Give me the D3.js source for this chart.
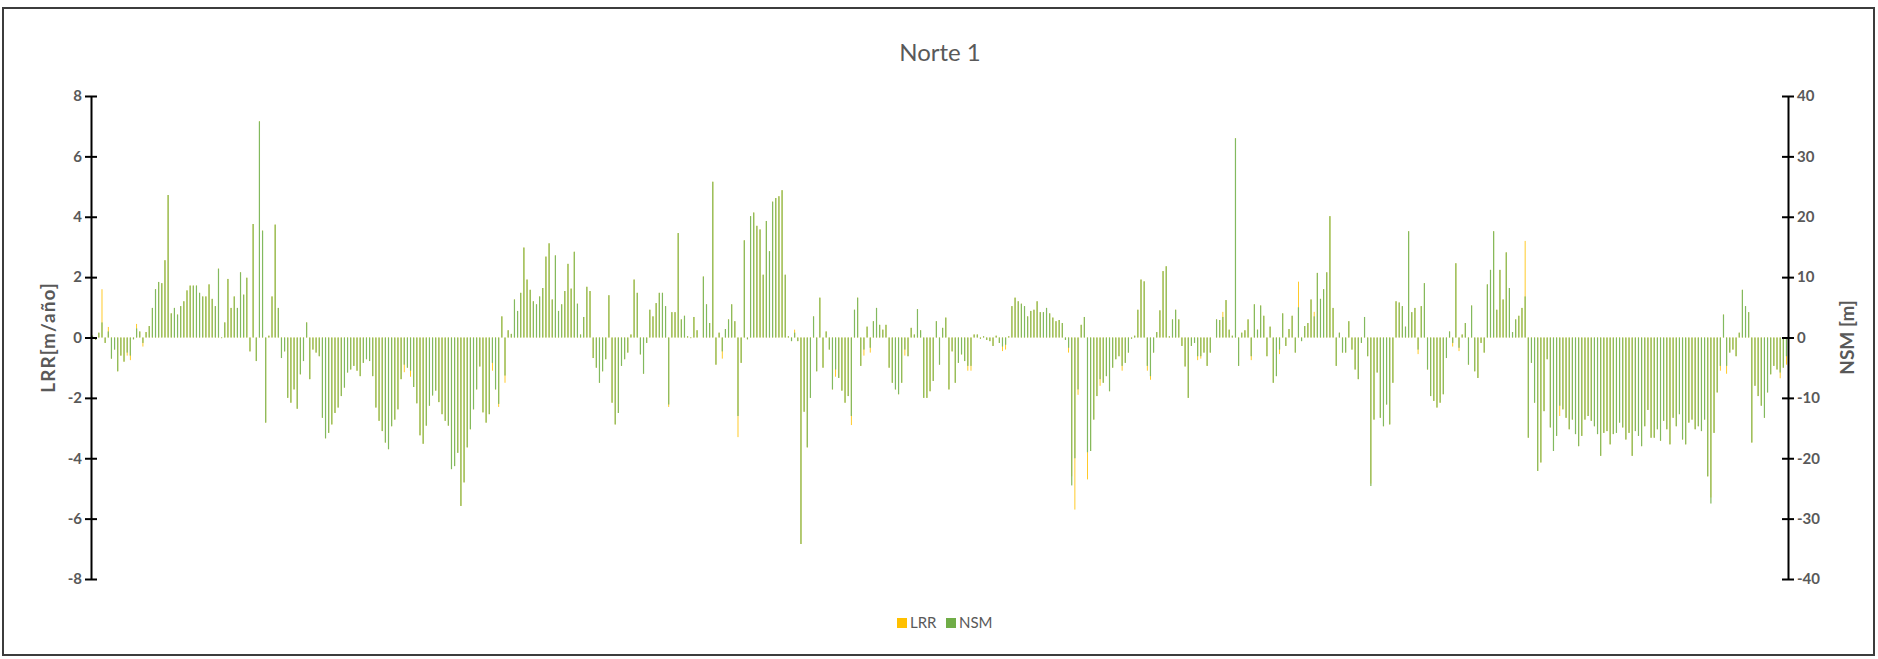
<!DOCTYPE html>
<html>
<head>
<meta charset="utf-8">
<script src="https://cdn.jsdelivr.net/npm/d3@7"></script>
<style>
  html, body { margin: 0; padding: 0; background: #fff; }
  svg { display: block; }
  text { font-family: Lato, "Open Sans", "DejaVu Sans", sans-serif; }
</style>
</head>
<body>
<svg id="chart" width="1878" height="659"></svg>
<script>
// Net shoreline movement per transect [m]
const nsm = [
  0.3, -0.4, 0.8, 2.5, -0.9, 1, -3.5, -2, -5.6, -3, -4, -2.5, -3, -0.3, 1.5, 1, -0.9, 0.9, 1.9, 4.9, 8, 9.2, 9, 12.8, 23.6, 4, 4.9, 3.8, 5.2, 6, 7.8, 8.6, 8.6, 8.6, 7.4, 6.8, 6.8, 8.8, 6.4, 5.2, 11.4, -0.1, 2.5, 9.7, 4.9, 6.8, 4.9, 10.8,
  7.1, 9.9, -2.3, 18.8, -3.9, 35.8, 17.7, -14.1, 0.3, 6.8, 18.7, 4.9, -3.4, -2.3, -10, -10.8, -8.6, -11.8, -6.1, -3.9, 2.5, -6.9, -2, -2.5, -3.1, -13.3, -16.7, -15.8, -14.4, -12.5, -11.6, -9.7, -8.3, -5.8, -5.3, -4.7, -5.5, -6.4, -4.2, -3.6, -3.9, -6.4, -11.6, -13.8, -15.5, -17.4, -18.5, -14.7, -13.6, -11.9,
  -6.9, -4.5, -5, -5.5, -8.2, -10.9, -16.2, -17.6, -14.6, -11.3, -9.6, -8.8, -10.7, -12.7, -13.8, -14.6, -21.8, -21.3, -19.1, -27.9, -24, -18.2, -15.2, -11.9, -8.6, -4.8, -12.4, -14.1, -12.7, -4.2, -8.6, -11, 3.5, -6.3, 1.2, 0.6, 6.3, 4.4, 7.4, 14.9, 9.6, 7.9, 6, 5.5, 6.8, 8.2, 13.4, 15.6, 6.3,
  13.6, 4.4, 5.5, 7.7, 12.2, 8.1, 14.2, 5.6, 0.5, 3.4, 8.4, 7.7, -3.4, -5, -7.5, -5.6, -3.6, 7, -10.8, -14.4, -12.5, -4.7, -3.6, -2.5, 0.5, 9.6, 7.4, -2.8, -6, -0.9, 4.6, 3.5, 5.7, 7.4, 7.4, 5.2, -11.1, 4.2, 4.2, 17.3, 3, 3.6, 0.2, -0.1, 3.4, 1.2, 0, 10.1, 5.5, 2.4,
  25.8, -4.5, 0.8, -2.3, 1.4, 3, 5.5, 2.7, -13, -4.2, 16.1, -0.3, 20.1, 20.7, 18.5, 17.9, 10.4, 19.3, 14.3, 22.5, 23.1, 23.4, 24.4, 10.4, 0.2, -0.6, 0.8, -0.6, -34.2, -12.3, -18.2, -10, 3.5, -5.6, 6.6, -5, 1, -2, -8.6, -5.3, -6.7, -8.8, -10.8, -9.7, -13, 4.6, 6.6, -4.7,
  -2, 1.8, -1.7, 2.7, 4.9, 2.1, 1.3, 2.1, -5, -7.5, -8.6, -9.4, -7.5, -2, -3.1, 1.6, 0.5, 4.7, 1.2, -10, -10, -8.9, -7.2, 2.7, -4.5, 1.6, 3.3, -8.6, -2.3, -7.5, -4.2, -2.8, -3.9, -4.7, -4.7, 0.5, 0.5, -0.2, 0.2, -0.4, -0.6, -1.4, 0.3, -0.9, -1.5, -1.2, 0.2, 5.2, 6.6, 6,
  5.6, 5.2, 3.5, 4.4, 4.6, 6, 4.2, 4.2, 4.9, 4, 3.3, 2.7, 2.9, 2.4, -0.4, -1.7, -24.5, -20, -8.6, 2.1, 3.4, -19, -18.8, -13.6, -9.7, -6.9, -7.5, -6.4, -8.9, -5, -3.6, -3.1, -4.7, -4.2, -2.5, -0.2, 0.3, 4.6, 9.6, 9.3, -4.7, -6.4, -2.5, 0.9, 4.5, 11, 11.8, 0.2, 3, 4.6,
  3, -1.4, -4.8, -10, -1.4, -0.9, -3.1, -3.1, -2.5, -4.7, -2.5, 0, 3, 2.9, 3.4, 6.2, 1.3, 0.3, 33, -4.7, 0.8, 1.2, 3, -3.1, 5.5, 1.3, 5.3, 3.6, -3.1, 1.8, -7.5, -6.4, -2, 4, -1.4, 1.4, 3.6, -2.5, 5, -0.6, 1.9, 2.4, 6.3, 3.5, 10.7, 6.4, 8, 10.8, 20.1, 4.9,
  -4.7, 0.8, -2.5, -2.5, 2.7, -2, -5.3, -6.9, -0.9, 3.4, -3.1, -24.6, -13.6, -5.8, -13.3, -14.7, -11.1, -14.4, -7.5, 6, 5.8, 5.2, 1.8, 17.6, 4.2, 4.9, -2, 5.2, 9, -5.3, -9.7, -10.5, -11.6, -10.8, -9.4, -3.4, 1, -0.9, 12.3, -1.7, 0.5, 2.4, -4.5, 5.3, -5.6, -6.7, -0.9, -2.5, 8.8, 11.2,
  17.6, 4.6, 11.2, 6.3, 14.1, 8.2, 0.9, 3, 3.6, 4.9, 6.8, -16.6, -4.2, -10.8, -22.1, -20.7, -12.2, -3.6, -14.9, -18.8, -16.3, -11.3, -11.9, -13.3, -15.2, -13.6, -16, -18, -16.3, -13.6, -13, -13.8, -14.7, -16, -19.6, -15.8, -15.5, -17.7, -16, -15.8, -14.1, -14.9, -16.9, -15.8, -19.6, -15.5, -16.3, -18, -14.7, -12,
  -16.6, -16.6, -15.2, -17.1, -13.8, -15.2, -17.7, -13.3, -14.7, -12.7, -16.9, -17.7, -14.1, -13.6, -15.2, -14.7, -15.5, -13.6, -23, -27.5, -15.8, -9.1, -4.7, 3.8, -4.7, -2.5, -2, -3.1, 0.8, 7.9, 5.2, 4.2, -17.4, -8, -9.7, -11.3, -13.3, -9.1, -6.1, -4.7, -5.3, -5.8, -5, -3.1
];

// Linear regression rate per transect [m/año]
const lrr = [
  0.06, -0.08, 0.16, 1.6, -0.18, 0.35, -0.7, -0.4, -1.12, -0.6, -0.8, -0.6, -0.75, -0.06, 0.45, 0.2, -0.3, 0.18, 0.38, 0.98, 1.6, 1.84, 1.8, 2.56, 4.72, 0.8, 0.98, 0.76, 1.04, 1.2, 1.56, 1.72, 1.72, 1.72, 1.48, 1.36, 1.36, 1.76, 1.28, 1.04, 2.28, -0.02, 0.5, 1.94, 0.98, 1.36, 0.98, 2.16,
  1.42, 1.98, -0.46, 3.76, -0.78, 7.16, 3.54, -2.82, 0.06, 1.36, 3.74, 0.98, -0.68, -0.46, -2, -2.16, -1.72, -2.36, -1.22, -0.78, 0.5, -1.38, -0.4, -0.5, -0.62, -2.66, -3.34, -3.16, -2.88, -2.5, -2.32, -1.94, -1.66, -1.16, -1.06, -0.94, -1.1, -1.28, -0.84, -0.72, -0.78, -1.28, -2.32, -2.76, -3.1, -3.48, -3.7, -2.94, -2.72, -2.38,
  -1.38, -1.15, -1, -1.3, -1.64, -2.18, -3.24, -3.52, -2.92, -2.26, -1.92, -1.76, -2.14, -2.54, -2.76, -2.92, -4.36, -4.26, -3.82, -5.58, -4.8, -3.64, -3.04, -2.38, -1.72, -0.96, -2.48, -2.82, -2.54, -1.1, -1.72, -2.3, 0.7, -1.5, 0.24, 0.12, 1.26, 0.88, 1.48, 2.98, 1.92, 1.58, 1.2, 1.1, 1.36, 1.64, 2.68, 3.12, 1.26,
  2.72, 0.88, 1.1, 1.54, 2.44, 1.62, 2.84, 1.12, 0.1, 0.68, 1.68, 1.54, -0.68, -1, -1.5, -1.12, -0.72, 1.4, -2.16, -2.88, -2.5, -0.94, -0.72, -0.5, 0.1, 1.92, 1.48, -0.56, -1.2, -0.18, 0.92, 0.7, 1.14, 1.48, 1.48, 1.04, -2.3, 0.84, 0.84, 3.46, 0.6, 0.72, 0.04, -0.02, 0.68, 0.24, 0, 2.02, 1.1, 0.48,
  5.16, -0.9, 0.16, -0.7, 0.28, 0.6, 1.1, 0.54, -3.3, -0.84, 3.22, -0.06, 4.02, 4.14, 3.7, 3.58, 2.08, 3.86, 2.86, 4.5, 4.62, 4.68, 4.88, 2.08, 0.04, -0.12, 0.26, -0.12, -6.84, -2.46, -3.64, -2, 0.7, -1.12, 1.32, -1, 0.2, -0.4, -1.72, -1.3, -1.34, -1.76, -2.16, -1.94, -2.9, 0.92, 1.32, -0.94,
  -0.6, 0.36, -0.5, 0.54, 0.98, 0.42, 0.26, 0.42, -1, -1.5, -1.72, -1.88, -1.5, -0.6, -0.62, 0.32, 0.1, 0.94, 0.24, -2, -2, -1.78, -1.44, 0.54, -0.9, 0.32, 0.66, -1.72, -0.46, -1.5, -0.84, -0.56, -0.78, -1.1, -1.1, 0.1, 0.1, -0.04, 0.04, -0.08, -0.12, -0.28, 0.06, -0.18, -0.45, -0.4, 0.04, 1.04, 1.32, 1.2,
  1.12, 1.04, 0.7, 0.88, 0.92, 1.2, 0.84, 0.84, 0.98, 0.8, 0.66, 0.54, 0.58, 0.48, -0.08, -0.5, -4.6, -5.7, -1.9, 0.42, 0.68, -4.7, -3.76, -2.72, -1.94, -1.6, -1.5, -1.28, -1.78, -1, -0.72, -0.62, -1.1, -0.84, -0.5, -0.04, 0.06, 0.92, 1.92, 1.86, -1.1, -1.4, -0.5, 0.18, 0.9, 2.2, 2.36, 0.04, 0.6, 0.92,
  0.6, -0.28, -0.96, -2, -0.28, -0.18, -0.75, -0.7, -0.5, -0.94, -0.5, 0, 0.6, 0.58, 0.85, 1.24, 0.26, 0.06, 6.6, -0.94, 0.16, 0.24, 0.6, -0.75, 1.1, 0.26, 1.06, 0.72, -0.62, 0.36, -1.5, -1.28, -0.55, 0.8, -0.28, 0.28, 0.72, -0.5, 1.85, -0.12, 0.38, 0.48, 1.26, 0.85, 2.14, 1.28, 1.6, 2.16, 4.02, 0.98,
  -0.94, 0.16, -0.5, -0.5, 0.54, -0.4, -1.06, -1.38, -0.18, 0.68, -0.62, -4.84, -2.72, -1.16, -2.66, -2.94, -2.22, -2.88, -1.5, 1.2, 1.16, 1.04, 0.36, 3.52, 0.84, 0.98, -0.55, 1.04, 1.8, -1.06, -1.94, -2.1, -2.32, -2.16, -1.88, -0.68, 0.2, -0.3, 2.46, -0.45, 0.1, 0.48, -0.9, 1.06, -1.12, -1.34, -0.18, -0.5, 1.76, 2.24,
  3.52, 0.92, 2.24, 1.26, 2.82, 1.64, 0.18, 0.6, 0.72, 0.98, 3.2, -3.32, -0.84, -2.16, -4.42, -4.14, -2.44, -0.72, -2.98, -3.76, -3.26, -2.6, -2.38, -2.66, -3.04, -2.72, -3.2, -3.6, -3.26, -2.72, -2.6, -2.76, -2.94, -3.2, -3.92, -3.16, -3.1, -3.54, -3.2, -3.16, -2.82, -2.98, -3.38, -3.16, -3.92, -3.1, -3.26, -3.6, -2.94, -2.4,
  -3.32, -3.32, -3.04, -3.42, -2.76, -3.04, -3.54, -2.66, -2.94, -2.54, -3.38, -3.54, -2.82, -2.72, -3.04, -2.94, -3.1, -2.72, -4.6, -5.3, -3.16, -1.82, -1.1, 0.76, -1.2, -0.5, -0.4, -0.62, 0.16, 1.58, 1.04, 0.84, -3.48, -1.6, -1.94, -2.26, -2.66, -1.82, -1.22, -0.94, -1.06, -1.35, -1, -0.9
];

const lrrTicks = [-8, -6, -4, -2, 0, 2, 4, 6, 8];
const nsmTicks = [-40, -30, -20, -10, 0, 10, 20, 30, 40];
const seriesNames = ["LRR", "NSM"];
const seriesColors = ["#FFC000", "#70AD47"];
const title = "Norte 1";
const leftTitle = "LRR[m/año]";
const rightTitle = "NSM [m]";

const n = Math.min(nsm.length, lrr.length);
const transects = d3.range(1, n + 1);

const svg = d3.select("#chart");
const plot = { left: 91, right: 1788, top: 96, bottom: 579 };
const textColor = "#595959";

// Chart frame
svg.append("rect")
  .attr("x", 3).attr("y", 8).attr("width", 1871).attr("height", 647)
  .attr("fill", "#fff").attr("stroke", "#3c3c3c").attr("stroke-width", 2);

const x = d3.scaleBand().domain(transects)
  .range([plot.left, plot.right]).paddingInner(0.62).paddingOuter(0.3);
const yL = d3.scaleLinear().domain([-8, 8]).range([plot.bottom, plot.top]);
const yR = d3.scaleLinear().domain([-40, 40]).range([plot.bottom, plot.top]);
const bw = x.bandwidth();

// LRR bars (primary axis), slightly inset and drawn first so NSM sits on top
svg.append("g").selectAll("rect")
  .data(transects)
  .join("rect")
  .attr("x", d => x(d) + bw * 0.15)
  .attr("width", bw * 0.7)
  .attr("y", (d, i) => Math.min(yL(lrr[i]), yL(0)))
  .attr("height", (d, i) => Math.abs(yL(lrr[i]) - yL(0)))
  .attr("fill", seriesColors[0]);

// NSM bars (secondary axis)
svg.append("g").selectAll("rect")
  .data(transects)
  .join("rect")
  .attr("x", d => x(d))
  .attr("width", bw)
  .attr("y", (d, i) => Math.min(yR(nsm[i]), yR(0)))
  .attr("height", (d, i) => Math.abs(yR(nsm[i]) - yR(0)))
  .attr("fill", "#82b95e");

// Axes with cross tick marks
function styleAxis(g, anchor) {
  g.select(".domain").attr("stroke", "#000").attr("stroke-width", 2);
  g.selectAll(".tick line").attr("x1", -6).attr("x2", 6)
    .attr("stroke", "#000").attr("stroke-width", 2);
  g.selectAll(".tick text")
    .attr("fill", textColor)
    .style("font-size", "15px")
    .style("font-weight", "bold")
    .attr("text-anchor", anchor);
}

const axL = svg.append("g")
  .attr("transform", `translate(${plot.left},0)`)
  .call(d3.axisLeft(yL).tickValues(lrrTicks).tickSizeInner(6).tickSizeOuter(0)
    .tickPadding(2).tickFormat(d => String(d)));
styleAxis(axL, "end");
axL.selectAll(".tick text").attr("x", -9);

const axR = svg.append("g")
  .attr("transform", `translate(${plot.right},0)`)
  .call(d3.axisRight(yR).tickValues(nsmTicks).tickSizeInner(6).tickSizeOuter(0)
    .tickPadding(2).tickFormat(d => String(d)));
styleAxis(axR, "start");
axR.selectAll(".tick text").attr("x", 9);

// Title
svg.append("text")
  .attr("x", 940).attr("y", 61)
  .attr("text-anchor", "middle")
  .attr("fill", textColor)
  .style("font-size", "24px")
  .text(title);

// Axis titles
svg.append("text")
  .attr("transform", `translate(55,${yL(0)}) rotate(-90)`)
  .attr("text-anchor", "middle")
  .attr("fill", textColor)
  .style("font-size", "19px").style("font-weight", "bold")
  .style("letter-spacing", "1px")
  .text(leftTitle);

svg.append("text")
  .attr("transform", `translate(1854,${yR(0)}) rotate(-90)`)
  .attr("text-anchor", "middle")
  .attr("fill", textColor)
  .style("font-size", "19px").style("font-weight", "bold")
  .text(rightTitle);

// Legend
const legend = svg.append("g").attr("transform", "translate(897,623)");
const items = legend.selectAll("g").data(seriesNames).join("g")
  .attr("transform", (d, i) => `translate(${i * 49},0)`);
items.append("rect")
  .attr("x", 0).attr("y", -5).attr("width", 10).attr("height", 10)
  .attr("fill", (d, i) => seriesColors[i]);
items.append("text")
  .attr("x", 13).attr("y", 5)
  .attr("fill", textColor)
  .style("font-size", "15px")
  .text(d => d);
</script>
</body>
</html>
